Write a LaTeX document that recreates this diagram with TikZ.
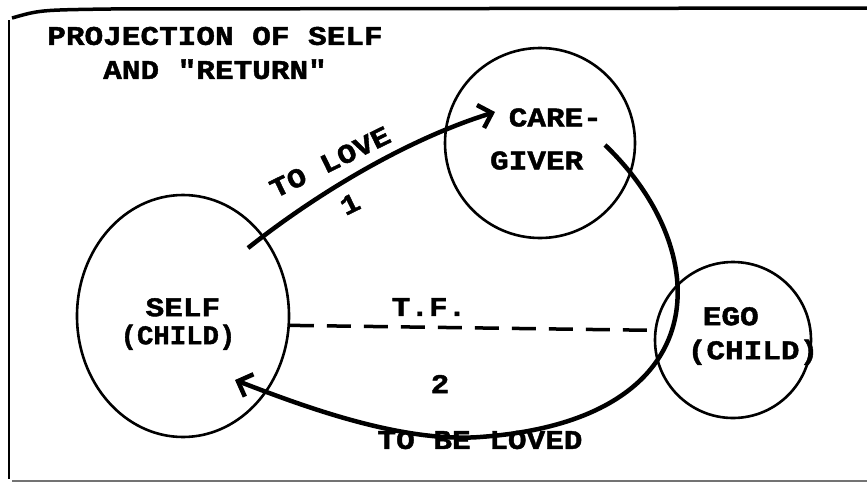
\documentclass[tikz,border=0pt]{standalone}
\usepackage{fontspec}
\setmonofont{Liberation Mono}[FakeStretch=1.15, BoldFeatures={FakeBold=1.6}]
\usetikzlibrary{shapes.geometric,arrows.meta,calc}

\begin{document}
\begin{tikzpicture}[x=1pt, y=-1pt,
    every node/.style={font=\ttfamily\bfseries\fontsize{27pt}{34pt}\selectfont},
    circ/.style={draw, circle, line width=2.6pt, inner sep=0pt},
    link/.style={line width=4.5pt, -{Straight Barb[length=12pt,width=24pt]}}]
    \useasboundingbox (0,0) rectangle (867,482);

    % Frame
    \draw[line width=3.5pt] (12,18) .. controls (40,10) .. (110,9) -- (867,8);
    \draw[line width=2.6pt] (9,20) -- (9,479);
    \draw[line width=1.5pt, black!55] (12,481) -- (867,481);

    % Title
    \node[align=center] (title) at (215,53) {PROJECTION OF SELF\\AND "RETURN"};

    % Circles
    \node[circ, ellipse, minimum width=212pt, minimum height=242pt] (self) at (183,316) {};
    \node[circ, minimum size=190pt] (care) at (540,143) {};
    \node[circ, minimum size=156pt] (ego) at (733,340) {};

    % Circle texts
    \node[align=left] (self-text) at ([shift={(-5,8)}]self.center) {\hspace{25pt}SELF\\[-6pt]\scalebox{0.88}[1]{(CHILD)}};
    \node[align=left] (care-text) at ([shift={(6,-4)}]care.center) {\hphantom{G}CARE-\\[9pt]GIVER};
    \node[align=left] (ego-text) at ([shift={(20,-4)}]ego.center) {\hspace{15pt}EGO\\(CHILD)};

    % Labels
    \node[rotate=26] (love) at (330,162) {TO LOVE};
    \node[rotate=26] (one) at (350,204) {1};
    \node (tf) at (429,307) {T.F.};
    \node (two) at (440,384) {2};
    \node (beloved) at (480,440) {TO BE LOVED};

    % Arrow ends
    \coordinate (love-tail) at ($(self.center)+(65,-68)$);
    \coordinate (love-tip) at ($(care.center)+(-45,-31)$);
    \coordinate (back-tail) at ($(care.center)+(65,2)$);
    \coordinate (back-tip) at ($(self.center)+(52,64)$);

    % Arrows
    \draw[link] (love-tail) .. controls (315,195) and (405,140) .. (love-tip);
    \draw[link] (back-tail) .. controls (715,250) and (720,420) .. (480,437)
        .. controls (400,443) and (300,405) .. (back-tip);
    \draw[line width=3.5pt, dash pattern=on 24pt off 13pt] (self.-5) -- (ego.173);
\end{tikzpicture}
\end{document}
